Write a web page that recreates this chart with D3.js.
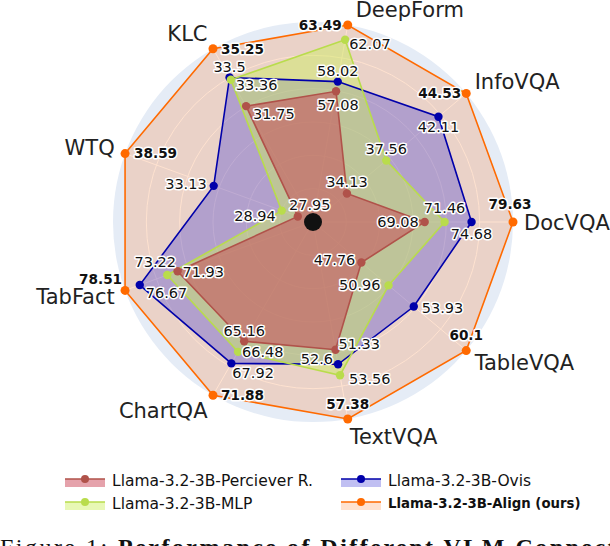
<html>

<head>
    <script src="https://d3js.org/d3.v7.min.js"></script>
    <style>
        body { margin: 0; background: #fff; }
        text { font-family: "DejaVu Sans", sans-serif; }
    </style>
</head>

<body></body>
<script>

    // categories, counter-clockwise starting at the east
    var categories = ["DocVQA", "InfoVQA", "DeepForm", "KLC", "WTQ", "TabFact", "ChartQA", "TextVQA", "TableVQA"];

    var perceiver = [69.08, 34.13, 57.08, 31.75, 27.95, 71.93, 65.16, 51.33, 47.76];
    var mlp = [71.46, 37.56, 62.07, 33.36, 28.94, 73.22, 66.48, 53.56, 50.96];
    var ovis = [74.68, 42.11, 58.02, 33.5, 33.13, 76.67, 67.92, 52.6, 53.93];
    var align = [79.63, 44.53, 63.49, 35.25, 38.59, 78.51, 71.88, 57.38, 60.1];

    var seriesNames = ["Llama-3.2-3B-Perciever R.", "Llama-3.2-3B-MLP", "Llama-3.2-3B-Ovis", "Llama-3.2-3B-Align (ours)"];

    // radial ticks (fraction of each axis max)
    var radialTicks = [0.75, 0.8, 0.85, 0.9, 0.95];

    var width = 610, height = 546;
    var cx = 313, cy = 222, R = 200;

    var svg = d3.select("body")
        .append("svg")
        .attr("width", width)
        .attr("height", height);

    // one scale per axis, domain [0.7 * max, max]
    var scales = categories.map(function (c, i) {
        var m = d3.max([perceiver[i], mlp[i], ovis[i], align[i]]);
        return d3.scaleLinear().domain([0.7 * m, m]).range([0, R]);
    });
    var angle = d3.scaleLinear().domain([0, categories.length]).range([0, 2 * Math.PI]);

    function pos(i, v) {
        var r = scales[i](v), a = angle(i);
        return [cx + r * Math.cos(a), cy - r * Math.sin(a)];
    }

    var series = [
        { name: seriesNames[3], values: align, line: "#ff6a00", fill: "rgba(255,110,20,0.2)", bold: true },
        { name: seriesNames[2], values: ovis, line: "#0000aa", fill: "rgba(60,55,215,0.32)" },
        { name: seriesNames[1], values: mlp, line: "#b9dc4c", fill: "rgba(205,240,90,0.45)" },
        { name: seriesNames[0], values: perceiver, line: "#b0524a", fill: "rgba(200,60,80,0.48)" }
    ];

    // label placement per series / axis: [anchor, dx, dy]
    var labelPlace = {};
    labelPlace[seriesNames[3]] = [["middle", -3, -18], ["end", -5, 0], ["end", -6, 0], ["start", 8, 0], ["start", 9, 0],
    ["end", -3, -11], ["start", 8, 0], ["middle", 0, -15], ["middle", 0, -15]];
    labelPlace[seriesNames[2]] = [["middle", 0, 12], ["middle", 0, 10], ["middle", 0, -11], ["middle", 0, -11], ["end", -7, -2],
    ["start", 6, 8], ["start", 1, 9], ["end", -5, -5], ["start", 8, 1]];
    labelPlace[seriesNames[1]] = [["middle", 0, -14], ["middle", 0, -12], ["start", 4, 4], ["start", 5, 5], ["end", -6, 5],
    ["middle", -12, -13], ["start", 4, 0], ["start", 9, 4], ["end", -8, -1]];
    labelPlace[seriesNames[0]] = [["end", -6, 0], ["middle", 0, -12], ["middle", 2, 13], ["start", 7, 8], ["middle", 12, -12],
    ["start", 5, 0], ["middle", 0, -10], ["start", 3, -6], ["end", -6, -3]];

    //background + grid
    svg.append("circle").attr("cx", cx).attr("cy", cy).attr("r", R).attr("fill", "#e5ecf6");

    svg.append("g").selectAll("circle")
        .data(radialTicks)
        .enter().append("circle")
        .attr("cx", cx).attr("cy", cy)
        .attr("r", function (t) { return (t - 0.7) / 0.3 * R; })
        .attr("fill", "none").attr("stroke", "#fff").attr("stroke-width", 1);

    svg.append("g").selectAll("line")
        .data(categories)
        .enter().append("line")
        .attr("x1", cx).attr("y1", cy)
        .attr("x2", function (d, i) { return cx + R * Math.cos(angle(i)); })
        .attr("y2", function (d, i) { return cy - R * Math.sin(angle(i)); })
        .attr("stroke", "#fff").attr("stroke-width", 1);

    // fills
    svg.append("g").selectAll("path")
        .data(series)
        .enter().append("path")
        .attr("d", function (s) {
            return d3.line()(s.values.map(function (v, i) { return pos(i, v); })) + "Z";
        })
        .attr("fill", function (s) { return s.fill; })
        .attr("stroke", "none");

    // lines and markers
    series.forEach(function (s) {
        var g = svg.append("g");
        g.append("path")
            .attr("d", d3.line()(s.values.map(function (v, i) { return pos(i, v); })) + "Z")
            .attr("fill", "none")
            .attr("stroke", s.line)
            .attr("stroke-width", 1.6);
        g.selectAll("circle")
            .data(s.values)
            .enter().append("circle")
            .attr("cx", function (v, i) { return pos(i, v)[0]; })
            .attr("cy", function (v, i) { return pos(i, v)[1]; })
            .attr("r", s.bold ? 4.5 : 4.2)
            .attr("fill", s.line);
    });

    // center dot
    svg.append("circle").attr("cx", cx).attr("cy", cy).attr("r", 9).attr("fill", "#111");

    // value labels
    series.forEach(function (s) {
        svg.append("g").selectAll("text")
            .data(s.values)
            .enter().append("text")
            .attr("x", function (v, i) { return pos(i, v)[0] + labelPlace[s.name][i][1]; })
            .attr("y", function (v, i) { return pos(i, v)[1] + labelPlace[s.name][i][2]; })
            .attr("dy", "0.36em")
            .attr("text-anchor", function (v, i) { return labelPlace[s.name][i][0]; })
            .style("font-size", s.bold ? "13.6px" : "14.5px")
            .style("font-weight", s.bold ? "bold" : "normal")
            .style("fill", "#111")
            .style("stroke", "#fff")
            .style("stroke-width", 3)
            .style("stroke-linejoin", "round")
            .style("paint-order", "stroke")
            .text(function (v) { return v; });
    });

    // category labels
    svg.append("g").selectAll("text")
        .data(categories)
        .enter().append("text")
        .attr("x", function (d, i) { return cx + (R + 11) * Math.cos(angle(i)) + (i == 2 ? 6 : 0); })
        .attr("y", function (d, i) { return cy - (R + 11) * Math.sin(angle(i)) - 7 * Math.sin(angle(i)) + (i == 2 ? 2 : 0); })
        .attr("dy", "0.36em")
        .attr("text-anchor", function (d, i) {
            var c = Math.cos(angle(i));
            return c > 0.01 ? "start" : "end";
        })
        .style("font-size", "21px")
        .style("fill", "#222")
        .text(function (d) { return d; });

    // legend
    var legendItems = [
        { s: series[3], x: 65, y: 480 },
        { s: series[1], x: 341, y: 480 },
        { s: series[2], x: 65, y: 503 },
        { s: series[0], x: 341, y: 503 }
    ];
    var lg = svg.append("g").selectAll("g")
        .data(legendItems)
        .enter().append("g")
        .attr("transform", function (d) { return "translate(" + d.x + "," + d.y + ")"; });
    lg.append("rect").attr("x", 0).attr("y", -1).attr("width", 40).attr("height", 8)
        .attr("fill", function (d) { return d.s.fill; });
    lg.append("line").attr("x1", 0).attr("x2", 40).attr("y1", -1).attr("y2", -1)
        .attr("stroke", function (d) { return d.s.line; }).attr("stroke-width", 1.6);
    lg.append("circle").attr("cx", 20).attr("cy", -1).attr("r", 4)
        .attr("fill", function (d) { return d.s.line; });
    lg.append("text").attr("x", 47).attr("y", 0).attr("dy", "0.36em")
        .style("font-size", function (d) { return d.s.bold ? "13.3px" : "15.5px"; })
        .style("font-weight", function (d) { return d.s.bold ? "bold" : "normal"; })
        .style("fill", "#111")
        .text(function (d) { return d.s.name; });

    // caption, cut by the bottom edge
    var cap = svg.append("text").attr("x", 0).attr("y", 555)
        .attr("textLength", 655).attr("lengthAdjust", "spacing")
        .style("font-family", "'Liberation Serif', serif")
        .style("font-size", "24px")
        .style("fill", "#111");
    cap.append("tspan").text("Figure 1: ");
    cap.append("tspan").style("font-weight", "bold").text("Performance of Different VLM Connectors");

</script>

</html>
